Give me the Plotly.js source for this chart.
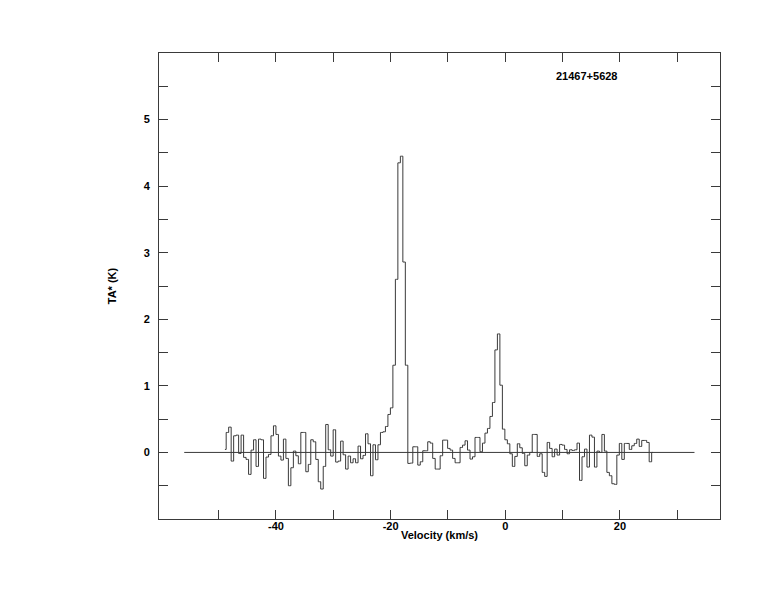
<!DOCTYPE html>
<html>
<head>
<meta charset="utf-8">
<script src="https://cdn.plot.ly/plotly-3.0.1.min.js"></script>
<style>html,body{margin:0;padding:0;background:#fff;}</style>
</head>
<body>
<div id="plot" style="width:774px;height:612px;"></div>
<script>
// Spectrum channel grid (km/s)
const velocityStart = -48.9;
const channelWidth = 0.434;
// Antenna temperature TA* (K) per channel
const temperature = [
  0.045, 0.30, 0.38, -0.13, 0.25, 0.26, -0.015, 0.26, -0.075, -0.105,
  -0.33, 0.035, 0.19, -0.21, 0.20, 0.19, -0.39, -0.07, -0.03, 0.25,
  0.40, 0.27, -0.055, -0.115, 0.20, -0.09, -0.50, -0.23, 0.02, -0.05,
  -0.17, 0.30, 0.30, -0.29, -0.18, 0.19, 0.16, -0.105, -0.44, -0.55,
  -0.21, 0.42, 0.04, -0.055, 0.34, -0.145, -0.13, 0.17, -0.035, -0.25,
  -0.055, -0.155, -0.095, -0.155, 0.095, -0.095, -0.045, 0.28, 0.13, -0.35,
  0.115, -0.11, 0.115, 0.30, 0.31, 0.39, 0.57, 0.67, 1.31, 2.60,
  4.35, 4.45, 2.86, 1.31, -0.165, -0.16, 0.085, 0.085, -0.19, -0.14,
  0.025, 0.025, 0.16, 0.14, -0.09, -0.25, -0.25, -0.05, 0.185, 0.185,
  0.06, 0.035, -0.09, -0.155, -0.155, 0.075, 0.11, 0.175, 0.035, -0.10,
  -0.065, 0.225, 0.225, 0.01, 0.14, 0.29, 0.36, 0.54, 0.75, 1.54,
  1.78, 1.01, 0.35, 0.19, 0.13, -0.02, -0.21, -0.06, 0.13, 0.07,
  -0.015, -0.20, -0.04, 0.0, 0.27, 0.27, -0.06, -0.02, -0.30, -0.36,
  0.15, 0.06, -0.065, 0.05, -0.04, 0.12, 0.11, 0.045, -0.02, 0.04,
  0.03, 0.04, 0.14, -0.42, -0.065, 0.05, -0.22, 0.26, 0.23, -0.22,
  0.02, 0.0, 0.27, 0.02, -0.30, -0.35, -0.47, -0.48, -0.04, 0.135,
  -0.105, 0.135, 0.135, 0.045, 0.10, 0.135, 0.20, 0.09, 0.18, 0.18,
  0.15, -0.14, 0.0
];
const velocity = temperature.map((_, i) => velocityStart + i * channelWidth);

const baselineRange = [-56, 33];
const sourceName = "21467+5628";
const xTickVals = [-50, -40, -30, -20, -10, 0, 10, 20, 30];
const xTickText = ["", "-40", "", "-20", "", "0", "", "20", ""];
const yTickVals = [-0.5, 0, 0.5, 1, 1.5, 2, 2.5, 3, 3.5, 4, 4.5, 5, 5.5];
const yTickText = ["", "0", "", "1", "", "2", "", "3", "", "4", "", "5", ""];

const ink = "#3a3a3a";
const font = {family: "Liberation Sans, Arial, sans-serif", size: 11, color: "#000", weight: "bold"};

const trace = {
  x: velocity, y: temperature, type: "scatter", mode: "lines",
  line: {shape: "hvh", color: ink, width: 1},
  hoverinfo: "skip"
};

const axisCommon = {
  showgrid: false, zeroline: false, showline: true, linecolor: ink, linewidth: 1,
  ticks: "inside", ticklen: 9, tickcolor: ink, tickwidth: 1, mirror: "allticks",
  tickmode: "array", tickfont: font
};

const layout = {
  width: 774, height: 612,
  margin: {l: 159, r: 54, t: 53, b: 93},
  paper_bgcolor: "#fff", plot_bgcolor: "#fff",
  showlegend: false,
  font: font,
  xaxis: Object.assign({}, axisCommon, {
    range: [-60.4, 37.45], tickvals: xTickVals, ticktext: xTickText,
    ticklabelstandoff: -3,
    title: {text: "Velocity (km/s)", font: font, standoff: 0}
  }),
  yaxis: Object.assign({}, axisCommon, {
    range: [-1, 6], tickvals: yTickVals, ticktext: yTickText,
    ticklabelstandoff: 6,
    title: {text: "TA* (K)", font: font, standoff: 24}
  }),
  shapes: [{
    type: "line", xref: "x", yref: "y",
    x0: baselineRange[0], x1: baselineRange[1], y0: 0, y1: 0,
    line: {color: ink, width: 1}
  }],
  annotations: [{
    text: sourceName, xref: "x", yref: "y", x: 14.1, y: 5.66,
    showarrow: false, xanchor: "center", yanchor: "middle", font: font
  }]
};

Plotly.newPlot("plot", [trace], layout, {displayModeBar: false, staticPlot: true});
</script>
</body>
</html>
